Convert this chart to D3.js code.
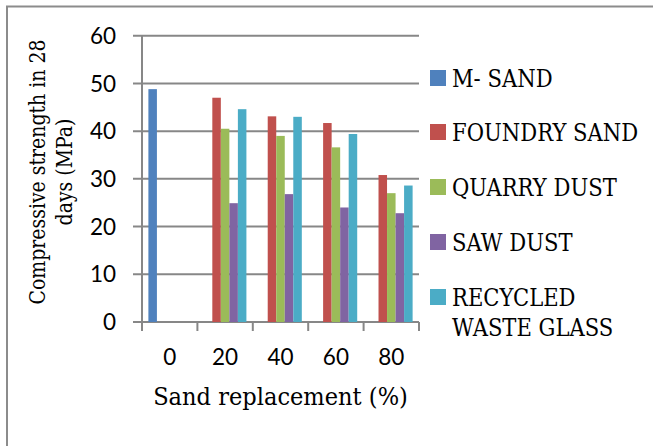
<!DOCTYPE html>
<html>
<head>
<meta charset="utf-8">
<script src="https://cdn.jsdelivr.net/npm/d3@7"></script>
<style>
  html, body { margin: 0; padding: 0; background: #fff; }
  svg { display: block; }
</style>
</head>
<body>
<svg id="chart" width="653" height="446"></svg>
<script>
// Sand replacement levels (%) shown along the x axis
const categories = ["0", "20", "40", "60", "80"];
// Series names, in legend order
const seriesNames = ["M- SAND", "FOUNDRY SAND", "QUARRY DUST", "SAW DUST", "RECYCLED WASTE GLASS"];
// 28-day compressive strength (MPa) per series, one value per category (null = no bar)
const mSand       = [48.8, null, null, null, null];
const foundrySand = [null, 47.0, 43.1, 41.7, 30.8];
const quarryDust  = [null, 40.5, 39.0, 36.6, 27.0];
const sawDust     = [null, 24.9, 26.8, 24.0, 22.8];
const glass       = [null, 44.6, 43.0, 39.4, 28.6];
// Y axis ticks
const yTicks = [0, 10, 20, 30, 40, 50, 60];
const colors = ["#4F81BD", "#C0504D", "#9BBB59", "#8064A2", "#4BACC6"];

const seriesValues = [mSand, foundrySand, quarryDust, sawDust, glass];
const series = seriesNames.map((name, i) => ({ name, color: colors[i], values: seriesValues[i] }));

const svg = d3.select("#chart");
const gridColor = "#878787";
const serif = "'DejaVu Serif', serif";
const sans = "Lato, 'Open Sans', sans-serif";

// outer frame (left and top edges)
svg.append("path")
  .attr("d", "M7,446 V6.5 H653")
  .attr("fill", "none")
  .attr("stroke", "#8c8c8c")
  .attr("stroke-width", 2);

const plot = { left: 142, right: 419, top: 35.7, bottom: 322 };

const x = d3.scaleBand().domain(categories).range([plot.left, plot.right]).paddingInner(0).paddingOuter(0);
// 5 bar slots per category with a 150% gap split across both sides
const xSub = d3.scaleBand().domain(d3.range(series.length)).range([0, x.bandwidth()]).paddingInner(0).paddingOuter(0.75);
const y = d3.scaleLinear().domain([0, 60]).range([plot.bottom, plot.top]);

// horizontal gridlines with outward tick stubs
svg.append("g").selectAll("line").data(yTicks).join("line")
  .attr("x1", plot.left - 9).attr("x2", plot.right)
  .attr("y1", d => y(d)).attr("y2", d => y(d))
  .attr("stroke", gridColor).attr("stroke-width", 2);

// y tick labels
svg.append("g").selectAll("text").data(yTicks).join("text")
  .attr("x", 116).attr("y", d => y(d))
  .attr("dy", "0.36em")
  .attr("text-anchor", "end")
  .attr("font-family", sans).attr("font-size", 22.5)
  .attr("fill", "#000")
  .text(d => d);

// bars
const groups = svg.append("g").selectAll("g").data(series).join("g")
  .attr("fill", d => d.color);
groups.each(function (s, si) {
  const pts = categories.map((c, ci) => ({ c, v: s.values[ci] })).filter(p => p.v != null);
  d3.select(this).selectAll("rect").data(pts).join("rect")
    .attr("x", p => x(p.c) + xSub(si))
    .attr("width", xSub.bandwidth())
    .attr("y", p => y(p.v))
    .attr("height", p => y(0) - y(p.v));
});

// vertical axis line
svg.append("line")
  .attr("x1", plot.left).attr("x2", plot.left)
  .attr("y1", plot.top).attr("y2", plot.bottom + 9)
  .attr("stroke", gridColor).attr("stroke-width", 2);

// category boundary ticks
const bounds = categories.map(c => x(c)).concat([plot.right]);
svg.append("g").selectAll("line").data(bounds.slice(1)).join("line")
  .attr("x1", d => d).attr("x2", d => d)
  .attr("y1", plot.bottom).attr("y2", plot.bottom + 9)
  .attr("stroke", gridColor).attr("stroke-width", 2);

// x tick labels
svg.append("g").selectAll("text").data(categories).join("text")
  .attr("x", d => x(d) + x.bandwidth() / 2)
  .attr("y", 365)
  .attr("text-anchor", "middle")
  .attr("font-family", sans).attr("font-size", 22.5)
  .attr("fill", "#000")
  .text(d => d);

// axis titles (serif text is narrowed slightly to keep its compact proportions)
svg.append("text")
  .attr("transform", `translate(${(plot.left + plot.right) / 2},405) scale(0.94,1)`)
  .attr("text-anchor", "middle")
  .attr("font-family", serif).attr("font-size", 24)
  .attr("fill", "#000")
  .text("Sand replacement (%)");

const yTitle = svg.append("text")
  .attr("transform", "translate(0,172) rotate(-90) scale(0.84,1)")
  .attr("text-anchor", "middle")
  .attr("font-family", serif).attr("font-size", 22.5)
  .attr("fill", "#000");
yTitle.append("tspan").attr("x", 0).attr("y", 45).text("Compressive strength in 28");
yTitle.append("tspan").attr("x", 0).attr("y", 72).text("days (MPa)");

// legend
const legendY = [78, 132, 187, 242, 297];
const legend = svg.append("g").selectAll("g").data(series).join("g")
  .attr("transform", (d, i) => `translate(430,${legendY[i]})`);
legend.append("rect")
  .attr("x", 0).attr("y", -8).attr("width", 16).attr("height", 16)
  .attr("fill", d => d.color);
legend.each(function (d) {
  const words = d.name === "RECYCLED WASTE GLASS" ? ["RECYCLED", "WASTE GLASS"] : [d.name];
  const t = d3.select(this).append("text")
    .attr("transform", "translate(22,0) scale(0.88,1)")
    .attr("font-family", serif).attr("font-size", 24)
    .attr("fill", "#000");
  words.forEach((w, k) => t.append("tspan").attr("x", 0).attr("y", 8.5 + k * 31).text(w));
});
</script>
</body>
</html>
